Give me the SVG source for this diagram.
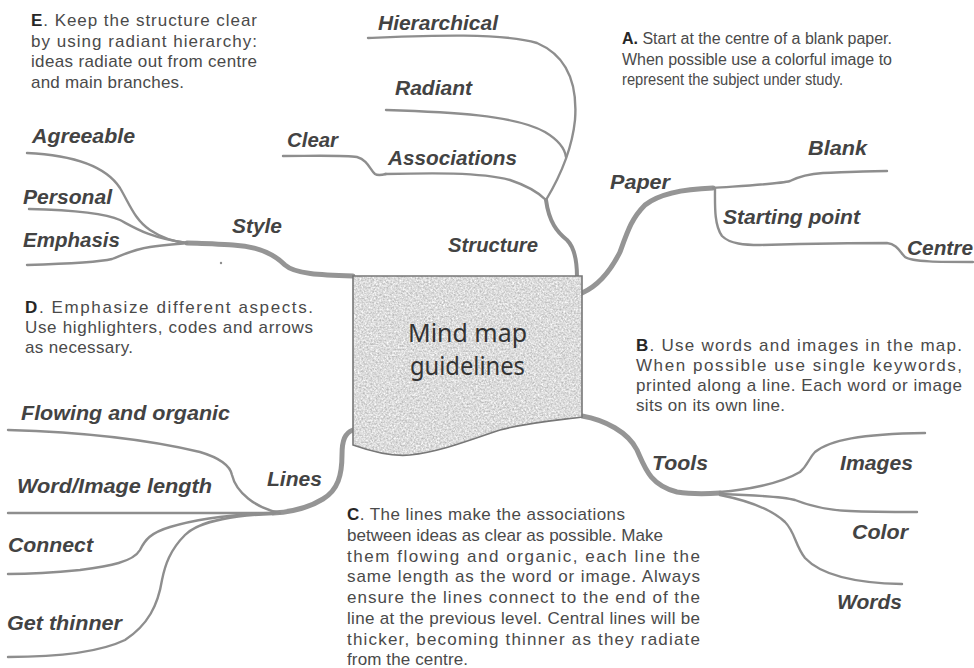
<svg xmlns="http://www.w3.org/2000/svg" width="974" height="668" viewBox="0 0 974 668">
  <style>
    .br { fill: none; stroke: #8e8e8e; stroke-linecap: round; stroke-linejoin: round; }
    .main { stroke-width: 5; stroke: #959595; }
    .trunk { stroke-width: 4; }
    .sub { stroke-width: 2.4; }
    .lbl { font-family: "Liberation Sans", Arial, sans-serif; font-size: 20px; font-weight: bold; font-style: italic; fill: #434343; }
    .note { font-family: "Liberation Sans", Arial, sans-serif; font-size: 17px; fill: #4a4a4a; }
    .note .k { font-weight: bold; fill: #262626; }
    .narrow { font-size: 16px; }
    .title { font-family: "Noto Sans", "DejaVu Sans", sans-serif; font-size: 25px; fill: #333333; }
  </style>
  <defs>
    <filter id="grain" x="0" y="0" width="1" height="1" color-interpolation-filters="sRGB">
      <feTurbulence type="fractalNoise" baseFrequency="0.55" numOctaves="3" seed="7" result="n"/>
      <feColorMatrix in="n" type="matrix" values="0.4 0 0 0 0.66  0.4 0 0 0 0.66  0.4 0 0 0 0.66  0 0 0 0 1" result="g"/>
      <feComposite in="g" in2="SourceAlpha" operator="in"/>
    </filter>
  </defs>
  <rect width="974" height="668" fill="#ffffff"/>

  <!-- connectors -->
  <g id="connectors">
    <!-- Structure -->
    <path class="br trunk" d="M577,277 C577,262 575,248 567,240 C557,232 549,222 546,200"/>
    <path class="br sub" d="M368,38 C420,36 500,32 537,43 C565,55 578,80 575,120 C572,150 558,180 546,200"/>
    <path class="br sub" d="M386,110 C450,112 515,115 545,132 C560,141 565,150 566,157"/>
    <path class="br sub" d="M385,174 C430,173 480,172 510,180 C528,186 538,192 546,200"/>
    <path class="br sub" d="M283,156 C310,156 345,155 357,157 C368,160 370,170 375,174 C378,176 382,175 386,174"/>
    <!-- Style -->
    <path class="br main" d="M353,276 C320,275 295,274 285,265 C272,252 255,246 233,245 C215,244 200,243 187,243"/>
    <path class="br sub" d="M27,153 C70,155 105,165 120,188 C130,205 135,220 150,230 C162,238 175,242 187,243"/>
    <path class="br sub" d="M29,209 C70,210 105,213 120,220 C135,228 150,238 187,243"/>
    <path class="br sub" d="M27,265 C60,264 100,262 112,259 C125,254 135,249 150,247 C165,245 178,244 187,243"/>
    <!-- Paper -->
    <path class="br main" d="M582,293 C600,285 612,268 620,252 C628,230 632,218 645,205 C660,193 685,189 713,188"/>
    <path class="br sub" d="M713,188 C740,186 780,184 790,181 C800,176 808,174 823,173 C850,172 870,171 887,171"/>
    <path class="br sub" d="M715,188 C715,205 714,225 722,236 C730,244 745,245 760,245 C800,244 850,243 887,243 C897,244 900,252 905,257 C912,262 940,262 973,262"/>
    <!-- Lines -->
    <path class="br main" d="M353,430 C345,433 342,440 342,455 C342,475 338,490 323,499 C310,507 295,512 273,513"/>
    <path class="br sub" d="M8,430 C80,432 150,440 200,452 C220,458 230,465 232,475 C236,492 255,508 280,513"/>
    <path class="br sub" d="M8,513 L275,513"/>
    <path class="br sub" d="M273,513 C240,514 200,518 170,527 C150,533 145,540 140,550 C133,562 110,566 80,570 C50,573 25,574 8,574"/>
    <path class="br sub" d="M273,514 C240,515 200,520 185,535 C170,550 165,565 162,580 C158,605 148,625 125,640 C100,652 60,657 8,657"/>
    <!-- Tools -->
    <path class="br main" d="M582,416 C605,420 628,432 637,450 C645,468 650,485 677,492 C690,494 705,494 720,493"/>
    <path class="br sub" d="M720,492 C745,490 780,484 800,472 C808,465 809,458 815,452 C830,440 860,434 925,433"/>
    <path class="br sub" d="M720,494 C750,495 780,496 795,500 C810,506 825,510 850,511 C870,512 895,512 917,512"/>
    <path class="br sub" d="M720,495 C745,500 770,508 785,522 C795,532 795,545 805,558 C820,574 850,583 902,584"/>
    <circle cx="221" cy="263" r="1.2" fill="#8e8e8e"/>
  </g>

  <!-- central page -->
  <g id="centre">
    <path d="M353,276 L582,276 L582,417 C560,420 530,422 500,430 C470,440 440,452 410,455 C390,457 370,451 353,445 Z" fill="#000" filter="url(#grain)"/>
    <path d="M353,276 L582,276 L582,417 C560,420 530,422 500,430 C470,440 440,452 410,455 C390,457 370,451 353,445 Z" fill="none" stroke="#777777" stroke-width="1.6"/>
    <text class="title" x="408" y="342" textLength="119" lengthAdjust="spacingAndGlyphs">Mind map</text>
    <text class="title" x="410" y="375" textLength="115" lengthAdjust="spacingAndGlyphs">guidelines</text>
  </g>

  <!-- branch labels -->
  <g id="structure"><text class="lbl" x="448" y="252" textLength="90" lengthAdjust="spacingAndGlyphs">Structure</text></g>
  <g id="hierarchical"><text class="lbl" x="378" y="30" textLength="120" lengthAdjust="spacingAndGlyphs">Hierarchical</text></g>
  <g id="radiant"><text class="lbl" x="395" y="95" textLength="77" lengthAdjust="spacingAndGlyphs">Radiant</text></g>
  <g id="associations"><text class="lbl" x="388" y="165" textLength="129" lengthAdjust="spacingAndGlyphs">Associations</text></g>
  <g id="clear"><text class="lbl" x="287" y="147" textLength="51" lengthAdjust="spacingAndGlyphs">Clear</text></g>

  <g id="style"><text class="lbl" x="232" y="233" textLength="50" lengthAdjust="spacingAndGlyphs">Style</text></g>
  <g id="agreeable"><text class="lbl" x="32" y="143" textLength="103" lengthAdjust="spacingAndGlyphs">Agreeable</text></g>
  <g id="personal"><text class="lbl" x="23" y="204" textLength="89" lengthAdjust="spacingAndGlyphs">Personal</text></g>
  <g id="emphasis"><text class="lbl" x="23" y="247" textLength="97" lengthAdjust="spacingAndGlyphs">Emphasis</text></g>

  <g id="paper"><text class="lbl" x="610" y="189" textLength="60" lengthAdjust="spacingAndGlyphs">Paper</text></g>
  <g id="blank"><text class="lbl" x="808" y="155" textLength="59" lengthAdjust="spacingAndGlyphs">Blank</text></g>
  <g id="starting-point"><text class="lbl" x="723" y="224" textLength="137" lengthAdjust="spacingAndGlyphs">Starting point</text></g>
  <g id="centre-label"><text class="lbl" x="907" y="255" textLength="66" lengthAdjust="spacingAndGlyphs">Centre</text></g>

  <g id="lines"><text class="lbl" x="267" y="486" textLength="55" lengthAdjust="spacingAndGlyphs">Lines</text></g>
  <g id="flowing"><text class="lbl" x="21" y="420" textLength="209" lengthAdjust="spacingAndGlyphs">Flowing and organic</text></g>
  <g id="word-image"><text class="lbl" x="17" y="493" textLength="195" lengthAdjust="spacingAndGlyphs">Word/Image length</text></g>
  <g id="connect"><text class="lbl" x="8" y="552" textLength="85" lengthAdjust="spacingAndGlyphs">Connect</text></g>
  <g id="get-thinner"><text class="lbl" x="7" y="630" textLength="115" lengthAdjust="spacingAndGlyphs">Get thinner</text></g>

  <g id="tools"><text class="lbl" x="652" y="470" textLength="56" lengthAdjust="spacingAndGlyphs">Tools</text></g>
  <g id="images"><text class="lbl" x="840" y="470" textLength="73" lengthAdjust="spacingAndGlyphs">Images</text></g>
  <g id="color"><text class="lbl" x="852" y="539" textLength="56" lengthAdjust="spacingAndGlyphs">Color</text></g>
  <g id="words"><text class="lbl" x="837" y="609" textLength="65" lengthAdjust="spacingAndGlyphs">Words</text></g>

  <!-- guideline notes -->
  <g id="note-e" class="note">
    <text x="31" y="26" textLength="226" lengthAdjust="spacing"><tspan class="k">E</tspan>.  Keep the structure clear</text>
    <text x="31" y="47" textLength="226" lengthAdjust="spacing">by using radiant hierarchy:</text>
    <text x="31" y="67" textLength="226" lengthAdjust="spacing">ideas radiate out from centre</text>
    <text x="31" y="88" textLength="153" lengthAdjust="spacing">and main branches.</text>
  </g>
  <g id="note-a" class="note narrow">
    <text x="622" y="44" textLength="270" lengthAdjust="spacingAndGlyphs"><tspan class="k">A.</tspan> Start at the centre of a blank paper.</text>
    <text x="622" y="65" textLength="270" lengthAdjust="spacingAndGlyphs">When possible use a colorful image to</text>
    <text x="622" y="85" textLength="221" lengthAdjust="spacingAndGlyphs">represent the subject under study.</text>
  </g>
  <g id="note-b" class="note">
    <text x="636" y="351" textLength="326" lengthAdjust="spacing"><tspan class="k">B</tspan>.  Use words and images in the map.</text>
    <text x="636" y="371" textLength="326" lengthAdjust="spacing">When possible use single keywords,</text>
    <text x="636" y="391" textLength="326" lengthAdjust="spacing">printed along a line. Each word or image</text>
    <text x="636" y="411" textLength="149" lengthAdjust="spacing">sits on its own line.</text>
  </g>
  <g id="note-d" class="note">
    <text x="25" y="313" textLength="288" lengthAdjust="spacing"><tspan class="k">D</tspan>.   Emphasize different aspects.</text>
    <text x="25" y="333" textLength="288" lengthAdjust="spacing">Use highlighters, codes and arrows</text>
    <text x="25" y="353" textLength="108" lengthAdjust="spacing">as necessary.</text>
  </g>
  <g id="note-c" class="note">
    <text x="347" y="520" textLength="278" lengthAdjust="spacing"><tspan class="k">C</tspan>.  The lines make the associations</text>
    <text x="347" y="541" textLength="316" lengthAdjust="spacingAndGlyphs">between ideas as clear as possible. Make</text>
    <text x="347" y="562" textLength="353" lengthAdjust="spacing">them flowing and organic, each line the</text>
    <text x="347" y="582" textLength="353" lengthAdjust="spacing">same length as the word or image. Always</text>
    <text x="347" y="603" textLength="353" lengthAdjust="spacing">ensure the lines connect to the end of the</text>
    <text x="347" y="624" textLength="353" lengthAdjust="spacing">line at the previous level. Central lines will be</text>
    <text x="347" y="645" textLength="353" lengthAdjust="spacing">thicker, becoming thinner as they radiate</text>
    <text x="347" y="665" textLength="121" lengthAdjust="spacing">from the centre.</text>
  </g>
</svg>
